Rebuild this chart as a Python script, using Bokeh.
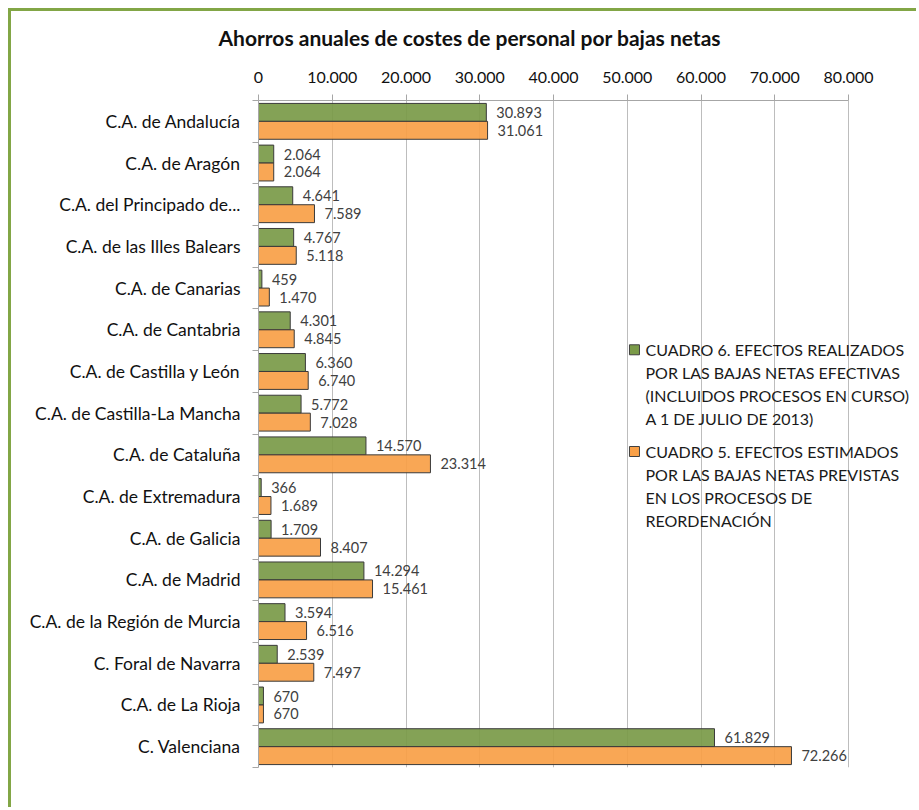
from bokeh.plotting import figure
from bokeh.models import FixedTicker, Label, Range1d, ColumnDataSource
from bokeh.embed import file_html
from bokeh.resources import INLINE
from bokeh.core.properties import value
import numpy as np

categories = [
    "C.A. de Andalucía", "C.A. de Aragón", "C.A. del Principado de...",
    "C.A. de las Illes Balears", "C.A. de Canarias", "C.A. de Cantabria",
    "C.A. de Castilla y León", "C.A. de Castilla-La Mancha", "C.A. de Cataluña",
    "C.A. de Extremadura", "C.A. de Galicia", "C.A. de Madrid",
    "C.A. de la Región de Murcia", "C. Foral de Navarra", "C.A. de La Rioja",
    "C. Valenciana",
]
cuadro6 = [30893, 2064, 4641, 4767, 459, 4301, 6360, 5772, 14570, 366, 1709,
           14294, 3594, 2539, 670, 61829]
cuadro5 = [31061, 2064, 7589, 5118, 1470, 4845, 6740, 7028, 23314, 1689, 8407,
           15461, 6516, 7497, 670, 72266]
x_ticks = [0, 10000, 20000, 30000, 40000, 50000, 60000, 70000, 80000]
x_tick_labels = ["0", "10.000", "20.000", "30.000", "40.000", "50.000",
                 "60.000", "70.000", "80.000"]
title_text = "Ahorros anuales de costes de personal por bajas netas"
legend6 = ["CUADRO 6. EFECTOS REALIZADOS", "POR LAS BAJAS NETAS EFECTIVAS",
           "(INCLUIDOS PROCESOS EN CURSO)", "A 1 DE JULIO DE 2013)"]
legend5 = ["CUADRO 5. EFECTOS ESTIMADOS", "POR LAS BAJAS NETAS PREVISTAS",
           "EN LOS PROCESOS DE", "REORDENACIÓN"]

FONT = "Lato"
GREEN = "#7A9A48"
ORANGE = "#F9A047"
BORDER = "#82A646"
EDGE = "#3A3A3A"


def fmt(v):
    return f"{v:,}".replace(",", ".")


n = len(categories)
idx = np.arange(n, dtype=float)
BAR_H = 0.43
X_MAX = 80000
PX_PER_UNIT = 590 / X_MAX          # 80.000 spans 590 px
CANVAS_W, CANVAS_H = 908, 799
LEFT, TOP, BOTTOM = 247, 87, 43
FRAME_W = CANVAS_W - LEFT          # frame runs to the right edge
x_end = FRAME_W / PX_PER_UNIT

p = figure(width=CANVAS_W, height=CANVAS_H,
           x_range=Range1d(0, x_end), y_range=Range1d(n - 0.5, -0.5),
           x_axis_location="above", output_backend="svg", toolbar_location=None,
           min_border_left=LEFT, min_border_right=0, min_border_top=TOP,
           min_border_bottom=BOTTOM, outline_line_color=None,
           styles={"margin": "8px 0 0 8px",
                   "border-top": f"3px solid {BORDER}",
                   "border-left": f"3px solid {BORDER}"})

src6 = ColumnDataSource(dict(y=idx - BAR_H / 2, v=cuadro6,
                             t=[fmt(v) for v in cuadro6]))
src5 = ColumnDataSource(dict(y=idx + BAR_H / 2, v=cuadro5,
                             t=[fmt(v) for v in cuadro5]))

p.hbar(y="y", left=0, right="v", height=BAR_H, source=src6,
       fill_color=GREEN, fill_alpha=0.92, line_color=EDGE, line_width=1)
p.hbar(y="y", left=0, right="v", height=BAR_H, source=src5,
       fill_color=ORANGE, fill_alpha=0.92, line_color=EDGE, line_width=1)

for s in (src6, src5):
    p.text(x="v", y="y", text="t", source=s, x_offset=10,
           text_baseline="middle", text_align="left",
           text_font=value(FONT), text_font_size="14.5px", text_color="#404040")

p.title.text = title_text
p.title.align = "left"
p.title.offset = -40
p.title.standoff = 22
p.title.text_font = FONT
p.title.text_font_size = "21px"
p.title.text_font_style = "bold"
p.title.text_color = "#111111"

xa = p.xaxis[0]
xa.ticker = FixedTicker(ticks=x_ticks)
xa.bounds = (0, X_MAX)
xa.major_label_overrides = {t: l for t, l in zip(x_ticks, x_tick_labels)}
xa.major_tick_out = 6
xa.major_tick_in = 0
xa.minor_tick_out = 0
xa.minor_tick_in = 0
xa.axis_line_color = "#A6A6A6"
xa.major_tick_line_color = "#A6A6A6"
xa.major_label_text_font = FONT
xa.major_label_text_font_size = "16px"
xa.major_label_text_color = "#111111"
xa.major_label_standoff = 12
xa.axis_label = " "
xa.axis_label_text_font_size = "1px"
xa.axis_label_standoff = 4

ya = p.yaxis[0]
ya.ticker = FixedTicker(ticks=list(idx), minor_ticks=list(idx - 0.5) + [n - 0.5])
ya.major_label_overrides = {float(i): c for i, c in enumerate(categories)}
ya.major_tick_out = 0
ya.major_tick_in = 0
ya.minor_tick_out = 6
ya.minor_tick_in = 0
ya.axis_line_color = "#A6A6A6"
ya.minor_tick_line_color = "#A6A6A6"
ya.major_label_text_font = FONT
ya.major_label_text_font_size = "17.5px"
ya.major_label_text_color = "#111111"
ya.major_label_standoff = 12

p.ygrid.visible = False
p.xgrid.grid_line_color = "#BDBDBD"
p.xgrid.bounds = (0, X_MAX)

LX_SQ = 50980
LX_TXT = 52475
LINE_GAP = 0.55
item_tops = [5.48, 7.92]
p.scatter(x=[LX_SQ, LX_SQ], y=item_tops, marker="square", size=10,
          fill_color=[GREEN, ORANGE], line_color="#404040")
for top, lines in zip(item_tops, (legend6, legend5)):
    for k, line in enumerate(lines):
        p.add_layout(Label(x=LX_TXT, y=top + k * LINE_GAP, text=line,
                           text_font=FONT, text_font_size="16px",
                           text_baseline="middle", text_color="#1a1a1a"))

open("out.html", "w").write(file_html(p, INLINE))
